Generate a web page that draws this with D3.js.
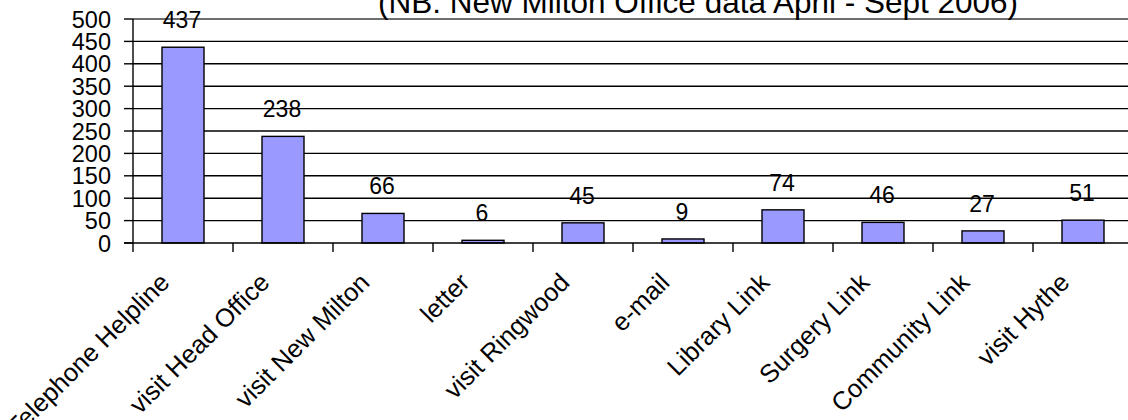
<!DOCTYPE html>
<html>
<head>
<meta charset="utf-8">
<script src="https://cdn.jsdelivr.net/npm/d3@7"></script>
<style>
  body { margin: 0; background: #fff; overflow: hidden; }
  text { font-family: "Liberation Sans", Arial, sans-serif; fill: #000; }
</style>
</head>
<body>
<div id="chart-area"></div>
<script>
// Chart data
var categories = ["Telephone Helpline", "visit Head Office", "visit New Milton", "letter",
    "visit Ringwood", "e-mail", "Library Link", "Surgery Link", "Community Link", "visit Hythe"];
var counts = [437, 238, 66, 6, 45, 9, 74, 46, 27, 51];
var yTicks = [0, 50, 100, 150, 200, 250, 300, 350, 400, 450, 500];
var title = "(NB: New Milton Office data April - Sept 2006)";

var width = 1128, height = 420;

var svg = d3.select("#chart-area")
    .append("svg")
        .attr("width", width)
        .attr("height", height);

// Scales
var x = d3.scaleBand()
    .domain(categories)
    .range([133, 1133])
    .paddingInner(0.58)
    .paddingOuter(0.29);

var y = d3.scaleLinear()
    .domain([0, 500])
    .range([243, 19]);

var step = x.step();

// Gridlines
svg.append("g")
    .selectAll("line")
    .data(yTicks.filter(function(d) { return d > 0; }))
    .enter().append("line")
        .attr("x1", 133)
        .attr("x2", 1133)
        .attr("y1", function(d) { return y(d); })
        .attr("y2", function(d) { return y(d); })
        .attr("stroke", function(d) { return d === 500 ? "#6e6e6e" : "#000"; })
        .attr("stroke-width", function(d) { return d === 500 ? 2 : 1.4; });

// Bars
svg.append("g")
    .selectAll("rect")
    .data(counts)
    .enter().append("rect")
        .attr("x", function(d, i) { return x(categories[i]); })
        .attr("y", function(d) { return y(d); })
        .attr("width", x.bandwidth())
        .attr("height", function(d) { return y(0) - y(d); })
        .attr("fill", "#9999ff")
        .attr("stroke", "#000")
        .attr("stroke-width", 1.4);

// Value labels
svg.append("g")
    .selectAll("text")
    .data(counts)
    .enter().append("text")
        .attr("x", function(d, i) { return x(categories[i]) + x.bandwidth() / 2 - 1; })
        .attr("y", function(d) { return y(d) - 19; })
        .attr("text-anchor", "middle")
        .attr("font-size", "23px")
        .text(function(d) { return d; });

// Y axis
svg.append("line")
    .attr("x1", 133).attr("x2", 133)
    .attr("y1", y(500)).attr("y2", y(0))
    .attr("stroke", "#000").attr("stroke-width", 1.4);

var yAxis = svg.append("g");
yAxis.selectAll("line")
    .data(yTicks)
    .enter().append("line")
        .attr("x1", 124).attr("x2", 133)
        .attr("y1", function(d) { return y(d); })
        .attr("y2", function(d) { return y(d); })
        .attr("stroke", "#000").attr("stroke-width", 1.4);
yAxis.selectAll("text")
    .data(yTicks)
    .enter().append("text")
        .attr("x", 111)
        .attr("y", function(d) { return y(d) + 8.5; })
        .attr("text-anchor", "end")
        .attr("font-size", "23.5px")
        .text(function(d) { return d; });

// X axis
svg.append("line")
    .attr("x1", 124).attr("x2", 1133)
    .attr("y1", y(0)).attr("y2", y(0))
    .attr("stroke", "#000").attr("stroke-width", 1.6);

var xAxis = svg.append("g");
xAxis.selectAll("line")
    .data(categories)
    .enter().append("line")
        .attr("x1", function(d) { return x(d) - x.paddingOuter() * step; })
        .attr("x2", function(d) { return x(d) - x.paddingOuter() * step; })
        .attr("y1", y(0)).attr("y2", y(0) + 9)
        .attr("stroke", "#000").attr("stroke-width", 1.4);

xAxis.selectAll("text")
    .data(categories)
    .enter().append("text")
        .attr("transform", function(d) {
            var cx = x(d) + x.bandwidth() / 2 - 12;
            return "translate(" + cx + "," + (y(0) + 41) + ") rotate(-45)";
        })
        .attr("text-anchor", "end")
        .attr("font-size", "25.5px")
        .text(function(d) { return d; });

// Title (top is clipped by the frame)
svg.append("text")
    .attr("x", 698)
    .attr("y", 13)
    .attr("text-anchor", "middle")
    .attr("font-size", "31.5px")
    .text(title);
</script>
</body>
</html>
